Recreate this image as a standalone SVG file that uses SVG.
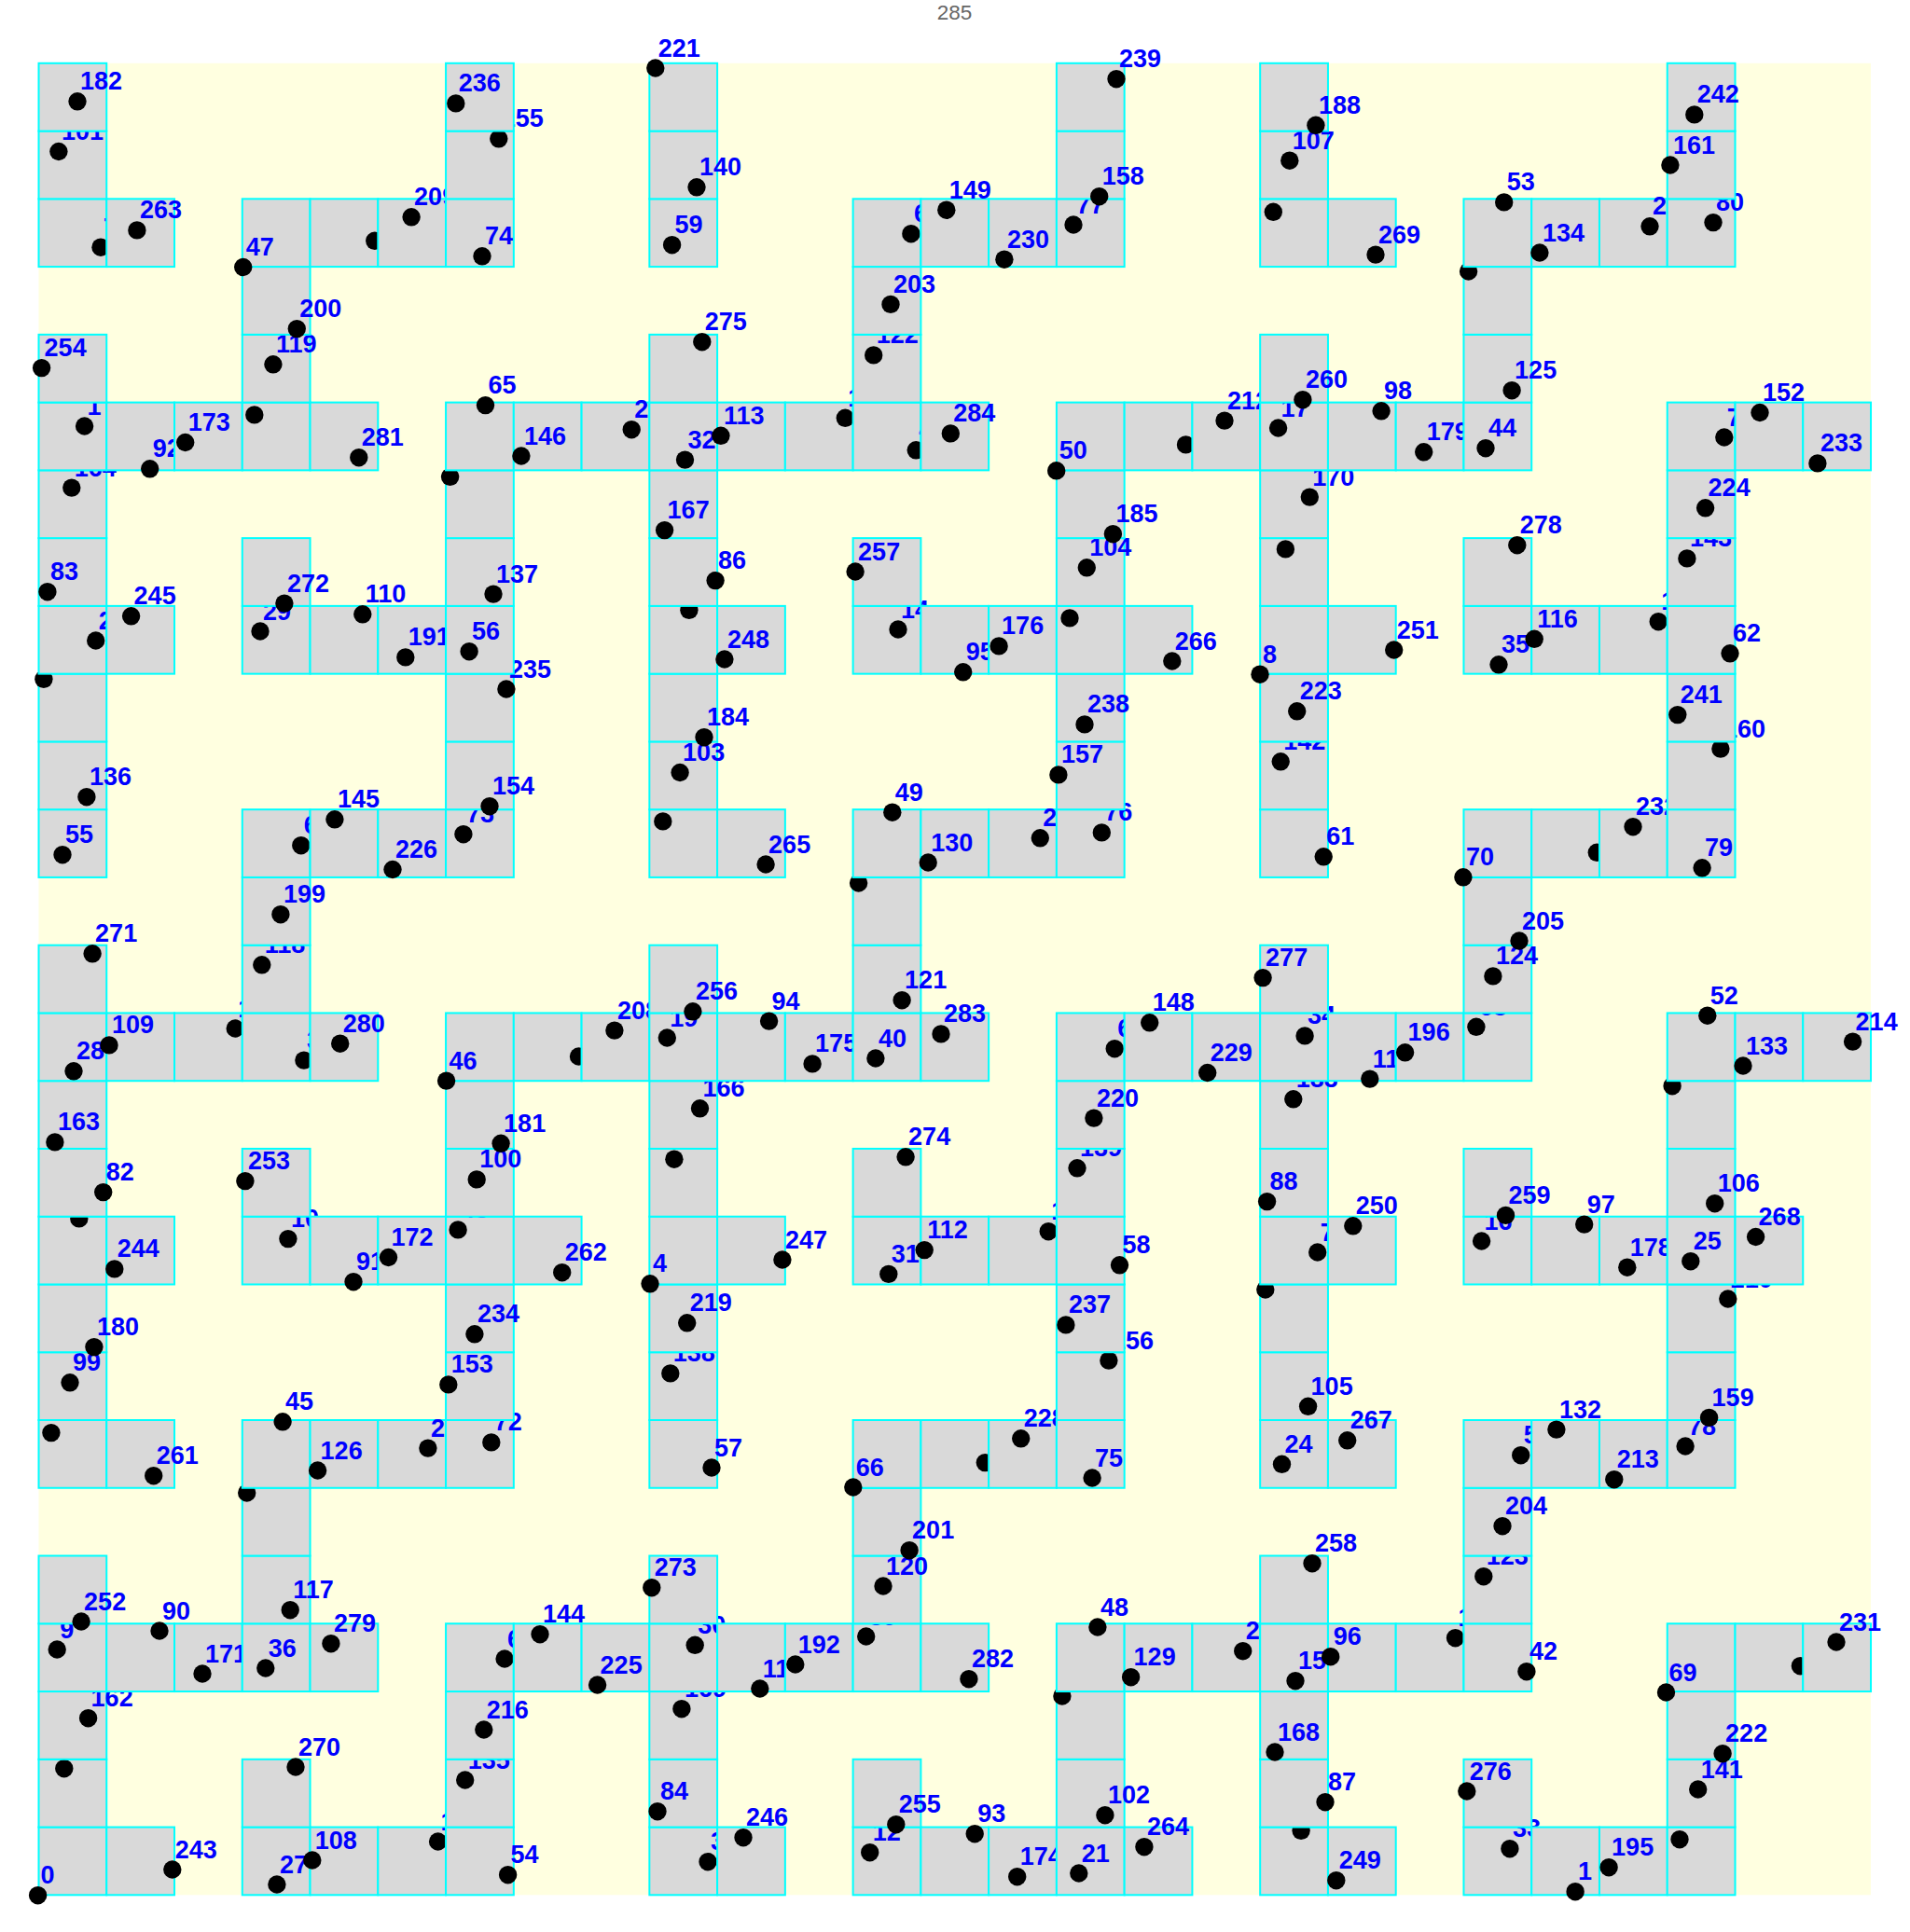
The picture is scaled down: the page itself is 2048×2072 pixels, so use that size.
<svg xmlns="http://www.w3.org/2000/svg" width="2048" height="2072" viewBox="0 0 2048 2072">
<style>
.c{fill:#d9d9d9;stroke:#00ffff;stroke-width:2}
circle{fill:#000}
.t{font-family:"Liberation Sans",Arial,sans-serif;font-weight:bold;font-size:27px;fill:#0000ff}
.ttl{font-family:"Liberation Sans",Arial,sans-serif;font-size:22.5px;fill:#666666}
</style>
<rect width="2048" height="2072" fill="#ffffff"/>
<text class="ttl" x="1023.5" y="21.3" text-anchor="middle">285</text>
<rect x="41.5" y="67.8" width="1964.5" height="1964.5" fill="#ffffe0"/>
<g id="cells">
<g id="n-26-0"><rect class="c" x="41.5" y="1959.56" width="72.76" height="72.76"/><circle cx="40.6" cy="2032.7" r="9.7"/><text class="t" x="43.6" y="2020.2">0</text></g>
<g id="n-26-1"><rect class="c" x="114.26" y="1959.56" width="72.76" height="72.76"/><circle cx="184.8" cy="2005" r="9.7"/><text class="t" x="187.8" y="1992.5">243</text></g>
<g id="n-26-3"><rect class="c" x="259.78" y="1959.56" width="72.76" height="72.76"/><circle cx="296.9" cy="2021" r="9.7"/><text class="t" x="299.9" y="2008.5">27</text></g>
<g id="n-26-4"><rect class="c" x="332.54" y="1959.56" width="72.76" height="72.76"/><circle cx="334.8" cy="1995" r="9.7"/><text class="t" x="337.8" y="1982.5">108</text></g>
<g id="n-26-5"><rect class="c" x="405.3" y="1959.56" width="72.76" height="72.76"/><circle cx="469.6" cy="1975" r="9.7"/><text class="t" x="472.6" y="1962.5">1</text></g>
<g id="n-26-6"><rect class="c" x="478.06" y="1959.56" width="72.76" height="72.76"/><circle cx="544.6" cy="2010.7" r="9.7"/><text class="t" x="547.6" y="1998.2">54</text></g>
<g id="n-26-9"><rect class="c" x="696.34" y="1959.56" width="72.76" height="72.76"/><circle cx="759" cy="1996.7" r="9.7"/><text class="t" x="762" y="1984.2">3</text></g>
<g id="n-26-10"><rect class="c" x="769.1" y="1959.56" width="72.76" height="72.76"/><circle cx="797" cy="1970.7" r="9.7"/><text class="t" x="800" y="1958.2">246</text></g>
<g id="n-26-12"><rect class="c" x="914.62" y="1959.56" width="72.76" height="72.76"/><circle cx="932.7" cy="1986.7" r="9.7"/><text class="t" x="935.7" y="1974.2">12</text></g>
<g id="n-26-13"><rect class="c" x="987.38" y="1959.56" width="72.76" height="72.76"/><circle cx="1045.2" cy="1966.7" r="9.7"/><text class="t" x="1048.2" y="1954.2">93</text></g>
<g id="n-26-14"><rect class="c" x="1060.14" y="1959.56" width="72.76" height="72.76"/><circle cx="1090.7" cy="2012.7" r="9.7"/><text class="t" x="1093.7" y="2000.2">174</text></g>
<g id="n-26-15"><rect class="c" x="1132.9" y="1959.56" width="72.76" height="72.76"/><circle cx="1156.8" cy="2009" r="9.7"/><text class="t" x="1159.8" y="1996.5">21</text></g>
<g id="n-26-16"><rect class="c" x="1205.66" y="1959.56" width="72.76" height="72.76"/><circle cx="1226.9" cy="1980.7" r="9.7"/><text class="t" x="1229.9" y="1968.2">264</text></g>
<g id="n-26-18"><rect class="c" x="1351.18" y="1959.56" width="72.76" height="72.76"/><circle cx="1395.1" cy="1963.3" r="9.7"/></g>
<g id="n-26-19"><rect class="c" x="1423.94" y="1959.56" width="72.76" height="72.76"/><circle cx="1432.8" cy="2016.7" r="9.7"/><text class="t" x="1435.8" y="2004.2">249</text></g>
<g id="n-26-21"><rect class="c" x="1569.46" y="1959.56" width="72.76" height="72.76"/><circle cx="1618.9" cy="1982.7" r="9.7"/><text class="t" x="1621.9" y="1970.2">33</text></g>
<g id="n-26-22"><rect class="c" x="1642.22" y="1959.56" width="72.76" height="72.76"/><circle cx="1689.1" cy="2028.7" r="9.7"/><text class="t" x="1692.1" y="2016.2">1</text></g>
<g id="n-26-23"><rect class="c" x="1714.98" y="1959.56" width="72.76" height="72.76"/><circle cx="1725.1" cy="2002.7" r="9.7"/><text class="t" x="1728.1" y="1990.2">195</text></g>
<g id="n-26-24"><rect class="c" x="1787.74" y="1959.56" width="72.76" height="72.76"/><circle cx="1801" cy="1972.7" r="9.7"/><text class="t" x="1804" y="1960.2">81</text></g>
<g id="n-25-0"><rect class="c" x="41.5" y="1886.8" width="72.76" height="72.76"/><circle cx="68.8" cy="1896.7" r="9.7"/></g>
<g id="n-25-3"><rect class="c" x="259.78" y="1886.8" width="72.76" height="72.76"/><circle cx="317" cy="1895" r="9.7"/><text class="t" x="320" y="1882.5">270</text></g>
<g id="n-25-6"><rect class="c" x="478.06" y="1886.8" width="72.76" height="72.76"/><circle cx="498.7" cy="1909" r="9.7"/><text class="t" x="501.7" y="1896.5">135</text></g>
<g id="n-25-9"><rect class="c" x="696.34" y="1886.8" width="72.76" height="72.76"/><circle cx="705" cy="1942.7" r="9.7"/><text class="t" x="708" y="1930.2">84</text></g>
<g id="n-25-12"><rect class="c" x="914.62" y="1886.8" width="72.76" height="72.76"/><circle cx="960.8" cy="1956.7" r="9.7"/><text class="t" x="963.8" y="1944.2">255</text></g>
<g id="n-25-15"><rect class="c" x="1132.9" y="1886.8" width="72.76" height="72.76"/><circle cx="1184.9" cy="1946.7" r="9.7"/><text class="t" x="1187.9" y="1934.2">102</text></g>
<g id="n-25-18"><rect class="c" x="1351.18" y="1886.8" width="72.76" height="72.76"/><circle cx="1421" cy="1932.7" r="9.7"/><text class="t" x="1424" y="1920.2">87</text></g>
<g id="n-25-21"><rect class="c" x="1569.46" y="1886.8" width="72.76" height="72.76"/><circle cx="1572.8" cy="1921" r="9.7"/><text class="t" x="1575.8" y="1908.5">276</text></g>
<g id="n-25-24"><rect class="c" x="1787.74" y="1886.8" width="72.76" height="72.76"/><circle cx="1820.7" cy="1919" r="9.7"/><text class="t" x="1823.7" y="1906.5">141</text></g>
<g id="n-24-0"><rect class="c" x="41.5" y="1814.04" width="72.76" height="72.76"/><circle cx="94.6" cy="1842.7" r="9.7"/><text class="t" x="97.6" y="1830.2">162</text></g>
<g id="n-24-6"><rect class="c" x="478.06" y="1814.04" width="72.76" height="72.76"/><circle cx="518.8" cy="1855" r="9.7"/><text class="t" x="521.8" y="1842.5">216</text></g>
<g id="n-24-9"><rect class="c" x="696.34" y="1814.04" width="72.76" height="72.76"/><circle cx="730.9" cy="1832.7" r="9.7"/><text class="t" x="733.9" y="1820.2">169</text></g>
<g id="n-24-15"><rect class="c" x="1132.9" y="1814.04" width="72.76" height="72.76"/><circle cx="1138.9" cy="1819" r="9.7"/></g>
<g id="n-24-18"><rect class="c" x="1351.18" y="1814.04" width="72.76" height="72.76"/><circle cx="1367" cy="1879" r="9.7"/><text class="t" x="1370" y="1866.5">168</text></g>
<g id="n-24-24"><rect class="c" x="1787.74" y="1814.04" width="72.76" height="72.76"/><circle cx="1847.1" cy="1880.7" r="9.7"/><text class="t" x="1850.1" y="1868.2">222</text></g>
<g id="n-23-0"><rect class="c" x="41.5" y="1741.28" width="72.76" height="72.76"/><circle cx="61.2" cy="1769" r="9.7"/><text class="t" x="64.2" y="1756.5">9</text></g>
<g id="n-23-1"><rect class="c" x="114.26" y="1741.28" width="72.76" height="72.76"/><circle cx="171" cy="1749" r="9.7"/><text class="t" x="174" y="1736.5">90</text></g>
<g id="n-23-2"><rect class="c" x="187.02" y="1741.28" width="72.76" height="72.76"/><circle cx="217" cy="1795" r="9.7"/><text class="t" x="220" y="1782.5">171</text></g>
<g id="n-23-3"><rect class="c" x="259.78" y="1741.28" width="72.76" height="72.76"/><circle cx="284.8" cy="1789" r="9.7"/><text class="t" x="287.8" y="1776.5">36</text></g>
<g id="n-23-4"><rect class="c" x="332.54" y="1741.28" width="72.76" height="72.76"/><circle cx="354.9" cy="1762.7" r="9.7"/><text class="t" x="357.9" y="1750.2">279</text></g>
<g id="n-23-6"><rect class="c" x="478.06" y="1741.28" width="72.76" height="72.76"/><circle cx="541.1" cy="1779" r="9.7"/><text class="t" x="544.1" y="1766.5">6</text></g>
<g id="n-23-7"><rect class="c" x="550.82" y="1741.28" width="72.76" height="72.76"/><circle cx="579" cy="1752.7" r="9.7"/><text class="t" x="582" y="1740.2">144</text></g>
<g id="n-23-8"><rect class="c" x="623.58" y="1741.28" width="72.76" height="72.76"/><circle cx="640.6" cy="1807" r="9.7"/><text class="t" x="643.6" y="1794.5">225</text></g>
<g id="n-23-9"><rect class="c" x="696.34" y="1741.28" width="72.76" height="72.76"/><circle cx="745.2" cy="1764.3" r="9.7"/><text class="t" x="748.2" y="1751.8">30</text></g>
<g id="n-23-10"><rect class="c" x="769.1" y="1741.28" width="72.76" height="72.76"/><circle cx="814.8" cy="1811" r="9.7"/><text class="t" x="817.8" y="1798.5">11</text></g>
<g id="n-23-11"><rect class="c" x="841.86" y="1741.28" width="72.76" height="72.76"/><circle cx="852.8" cy="1785" r="9.7"/><text class="t" x="855.8" y="1772.5">192</text></g>
<g id="n-23-12"><rect class="c" x="914.62" y="1741.28" width="72.76" height="72.76"/><circle cx="928.7" cy="1755" r="9.7"/><text class="t" x="931.7" y="1742.5">89</text></g>
<g id="n-23-13"><rect class="c" x="987.38" y="1741.28" width="72.76" height="72.76"/><circle cx="1038.9" cy="1800.7" r="9.7"/><text class="t" x="1041.9" y="1788.2">282</text></g>
<g id="n-23-15"><rect class="c" x="1132.9" y="1741.28" width="72.76" height="72.76"/><circle cx="1176.9" cy="1745" r="9.7"/><text class="t" x="1179.9" y="1732.5">48</text></g>
<g id="n-23-16"><rect class="c" x="1205.66" y="1741.28" width="72.76" height="72.76"/><circle cx="1212.6" cy="1798.7" r="9.7"/><text class="t" x="1215.6" y="1786.2">129</text></g>
<g id="n-23-17"><rect class="c" x="1278.42" y="1741.28" width="72.76" height="72.76"/><circle cx="1332.7" cy="1770.7" r="9.7"/><text class="t" x="1335.7" y="1758.2">2</text></g>
<g id="n-23-18"><rect class="c" x="1351.18" y="1741.28" width="72.76" height="72.76"/><circle cx="1389" cy="1802.7" r="9.7"/><text class="t" x="1392" y="1790.2">15</text></g>
<g id="n-23-19"><rect class="c" x="1423.94" y="1741.28" width="72.76" height="72.76"/><circle cx="1426.7" cy="1776.7" r="9.7"/><text class="t" x="1429.7" y="1764.2">96</text></g>
<g id="n-23-20"><rect class="c" x="1496.7" y="1741.28" width="72.76" height="72.76"/><circle cx="1560.5" cy="1756.7" r="9.7"/><text class="t" x="1563.5" y="1744.2">1</text></g>
<g id="n-23-21"><rect class="c" x="1569.46" y="1741.28" width="72.76" height="72.76"/><circle cx="1636.9" cy="1792.7" r="9.7"/><text class="t" x="1639.9" y="1780.2">42</text></g>
<g id="n-23-24"><rect class="c" x="1787.74" y="1741.28" width="72.76" height="72.76"/><circle cx="1786.5" cy="1815" r="9.7"/><text class="t" x="1789.5" y="1802.5">69</text></g>
<g id="n-23-25"><rect class="c" x="1860.5" y="1741.28" width="72.76" height="72.76"/><circle cx="1930.4" cy="1786.7" r="9.7"/></g>
<g id="n-23-26"><rect class="c" x="1933.26" y="1741.28" width="72.76" height="72.76"/><circle cx="1969" cy="1761" r="9.7"/><text class="t" x="1972" y="1748.5">231</text></g>
<g id="n-22-0"><rect class="c" x="41.5" y="1668.52" width="72.76" height="72.76"/><circle cx="87.1" cy="1739" r="9.7"/><text class="t" x="90.1" y="1726.5">252</text></g>
<g id="n-22-3"><rect class="c" x="259.78" y="1668.52" width="72.76" height="72.76"/><circle cx="311.2" cy="1726.7" r="9.7"/><text class="t" x="314.2" y="1714.2">117</text></g>
<g id="n-22-9"><rect class="c" x="696.34" y="1668.52" width="72.76" height="72.76"/><circle cx="698.8" cy="1702.7" r="9.7"/><text class="t" x="701.8" y="1690.2">273</text></g>
<g id="n-22-12"><rect class="c" x="914.62" y="1668.52" width="72.76" height="72.76"/><circle cx="947" cy="1701" r="9.7"/><text class="t" x="950" y="1688.5">120</text></g>
<g id="n-22-18"><rect class="c" x="1351.18" y="1668.52" width="72.76" height="72.76"/><circle cx="1407" cy="1676.7" r="9.7"/><text class="t" x="1410" y="1664.2">258</text></g>
<g id="n-22-21"><rect class="c" x="1569.46" y="1668.52" width="72.76" height="72.76"/><circle cx="1590.8" cy="1690.7" r="9.7"/><text class="t" x="1593.8" y="1678.2">123</text></g>
<g id="n-21-3"><rect class="c" x="259.78" y="1595.76" width="72.76" height="72.76"/><circle cx="264.7" cy="1601" r="9.7"/></g>
<g id="n-21-12"><rect class="c" x="914.62" y="1595.76" width="72.76" height="72.76"/><circle cx="975.1" cy="1662.7" r="9.7"/><text class="t" x="978.1" y="1650.2">201</text></g>
<g id="n-21-21"><rect class="c" x="1569.46" y="1595.76" width="72.76" height="72.76"/><circle cx="1611" cy="1636.7" r="9.7"/><text class="t" x="1614" y="1624.2">204</text></g>
<g id="n-20-0"><rect class="c" x="41.5" y="1523" width="72.76" height="72.76"/><circle cx="54.9" cy="1536.6" r="9.7"/><text class="t" x="57.9" y="1524.1">85</text></g>
<g id="n-20-1"><rect class="c" x="114.26" y="1523" width="72.76" height="72.76"/><circle cx="164.7" cy="1582.7" r="9.7"/><text class="t" x="167.7" y="1570.2">261</text></g>
<g id="n-20-3"><rect class="c" x="259.78" y="1523" width="72.76" height="72.76"/><circle cx="303.1" cy="1524.8" r="9.7"/><text class="t" x="306.1" y="1512.3">45</text></g>
<g id="n-20-4"><rect class="c" x="332.54" y="1523" width="72.76" height="72.76"/><circle cx="340.6" cy="1577" r="9.7"/><text class="t" x="343.6" y="1564.5">126</text></g>
<g id="n-20-5"><rect class="c" x="405.3" y="1523" width="72.76" height="72.76"/><circle cx="458.9" cy="1553.1" r="9.7"/><text class="t" x="461.9" y="1540.6">2</text></g>
<g id="n-20-6"><rect class="c" x="478.06" y="1523" width="72.76" height="72.76"/><circle cx="526.8" cy="1546.9" r="9.7"/><text class="t" x="529.8" y="1534.4">72</text></g>
<g id="n-20-9"><rect class="c" x="696.34" y="1523" width="72.76" height="72.76"/><circle cx="763" cy="1574" r="9.7"/><text class="t" x="766" y="1561.5">57</text></g>
<g id="n-20-12"><rect class="c" x="914.62" y="1523" width="72.76" height="72.76"/><circle cx="914.8" cy="1595" r="9.7"/><text class="t" x="917.8" y="1582.5">66</text></g>
<g id="n-20-13"><rect class="c" x="987.38" y="1523" width="72.76" height="72.76"/><circle cx="1056.3" cy="1568.6" r="9.7"/></g>
<g id="n-20-14"><rect class="c" x="1060.14" y="1523" width="72.76" height="72.76"/><circle cx="1094.7" cy="1542.8" r="9.7"/><text class="t" x="1097.7" y="1530.3">228</text></g>
<g id="n-20-15"><rect class="c" x="1132.9" y="1523" width="72.76" height="72.76"/><circle cx="1171.1" cy="1585" r="9.7"/><text class="t" x="1174.1" y="1572.5">75</text></g>
<g id="n-20-18"><rect class="c" x="1351.18" y="1523" width="72.76" height="72.76"/><circle cx="1374.5" cy="1570.3" r="9.7"/><text class="t" x="1377.5" y="1557.8">24</text></g>
<g id="n-20-19"><rect class="c" x="1423.94" y="1523" width="72.76" height="72.76"/><circle cx="1444.7" cy="1544.8" r="9.7"/><text class="t" x="1447.7" y="1532.3">267</text></g>
<g id="n-20-21"><rect class="c" x="1569.46" y="1523" width="72.76" height="72.76"/><circle cx="1630.7" cy="1560.7" r="9.7"/><text class="t" x="1633.7" y="1548.2">5</text></g>
<g id="n-20-22"><rect class="c" x="1642.22" y="1523" width="72.76" height="72.76"/><circle cx="1668.9" cy="1533.1" r="9.7"/><text class="t" x="1671.9" y="1520.6">132</text></g>
<g id="n-20-23"><rect class="c" x="1714.98" y="1523" width="72.76" height="72.76"/><circle cx="1730.8" cy="1586.7" r="9.7"/><text class="t" x="1733.8" y="1574.2">213</text></g>
<g id="n-20-24"><rect class="c" x="1787.74" y="1523" width="72.76" height="72.76"/><circle cx="1807.1" cy="1551" r="9.7"/><text class="t" x="1810.1" y="1538.5">78</text></g>
<g id="n-19-0"><rect class="c" x="41.5" y="1450.24" width="72.76" height="72.76"/><circle cx="75" cy="1482.8" r="9.7"/><text class="t" x="78" y="1470.3">99</text></g>
<g id="n-19-6"><rect class="c" x="478.06" y="1450.24" width="72.76" height="72.76"/><circle cx="480.8" cy="1484.9" r="9.7"/><text class="t" x="483.8" y="1472.4">153</text></g>
<g id="n-19-9"><rect class="c" x="696.34" y="1450.24" width="72.76" height="72.76"/><circle cx="718.8" cy="1472.9" r="9.7"/><text class="t" x="721.8" y="1460.4">138</text></g>
<g id="n-19-15"><rect class="c" x="1132.9" y="1450.24" width="72.76" height="72.76"/><circle cx="1188.9" cy="1459.1" r="9.7"/><text class="t" x="1191.9" y="1446.6">156</text></g>
<g id="n-19-18"><rect class="c" x="1351.18" y="1450.24" width="72.76" height="72.76"/><circle cx="1402.6" cy="1508.3" r="9.7"/><text class="t" x="1405.6" y="1495.8">105</text></g>
<g id="n-19-24"><rect class="c" x="1787.74" y="1450.24" width="72.76" height="72.76"/><circle cx="1832.6" cy="1520.4" r="9.7"/><text class="t" x="1835.6" y="1507.9">159</text></g>
<g id="n-18-0"><rect class="c" x="41.5" y="1377.48" width="72.76" height="72.76"/><circle cx="100.9" cy="1444.6" r="9.7"/><text class="t" x="103.9" y="1432.1">180</text></g>
<g id="n-18-6"><rect class="c" x="478.06" y="1377.48" width="72.76" height="72.76"/><circle cx="508.9" cy="1430.8" r="9.7"/><text class="t" x="511.9" y="1418.3">234</text></g>
<g id="n-18-9"><rect class="c" x="696.34" y="1377.48" width="72.76" height="72.76"/><circle cx="736.7" cy="1418.8" r="9.7"/><text class="t" x="739.7" y="1406.3">219</text></g>
<g id="n-18-15"><rect class="c" x="1132.9" y="1377.48" width="72.76" height="72.76"/><circle cx="1142.9" cy="1420.9" r="9.7"/><text class="t" x="1145.9" y="1408.4">237</text></g>
<g id="n-18-18"><rect class="c" x="1351.18" y="1377.48" width="72.76" height="72.76"/><circle cx="1356.8" cy="1383" r="9.7"/></g>
<g id="n-18-24"><rect class="c" x="1787.74" y="1377.48" width="72.76" height="72.76"/><circle cx="1852.8" cy="1393" r="9.7"/><text class="t" x="1855.8" y="1380.5">210</text></g>
<g id="n-17-0"><rect class="c" x="41.5" y="1304.72" width="72.76" height="72.76"/><circle cx="84.8" cy="1306.9" r="9.7"/></g>
<g id="n-17-1"><rect class="c" x="114.26" y="1304.72" width="72.76" height="72.76"/><circle cx="122.8" cy="1360.9" r="9.7"/><text class="t" x="125.8" y="1348.4">244</text></g>
<g id="n-17-3"><rect class="c" x="259.78" y="1304.72" width="72.76" height="72.76"/><circle cx="308.9" cy="1328.6" r="9.7"/><text class="t" x="311.9" y="1316.1">10</text></g>
<g id="n-17-4"><rect class="c" x="332.54" y="1304.72" width="72.76" height="72.76"/><circle cx="379" cy="1374.7" r="9.7"/><text class="t" x="382" y="1362.2">91</text></g>
<g id="n-17-5"><rect class="c" x="405.3" y="1304.72" width="72.76" height="72.76"/><circle cx="416.5" cy="1348.5" r="9.7"/><text class="t" x="419.5" y="1336">172</text></g>
<g id="n-17-6"><rect class="c" x="478.06" y="1304.72" width="72.76" height="72.76"/><circle cx="491.1" cy="1318.9" r="9.7"/><text class="t" x="494.1" y="1306.4">43</text></g>
<g id="n-17-7"><rect class="c" x="550.82" y="1304.72" width="72.76" height="72.76"/><circle cx="602.7" cy="1364.7" r="9.7"/><text class="t" x="605.7" y="1352.2">262</text></g>
<g id="n-17-9"><rect class="c" x="696.34" y="1304.72" width="72.76" height="72.76"/><circle cx="697" cy="1376.8" r="9.7"/><text class="t" x="700" y="1364.3">4</text></g>
<g id="n-17-10"><rect class="c" x="769.1" y="1304.72" width="72.76" height="72.76"/><circle cx="838.9" cy="1351" r="9.7"/><text class="t" x="841.9" y="1338.5">247</text></g>
<g id="n-17-12"><rect class="c" x="914.62" y="1304.72" width="72.76" height="72.76"/><circle cx="952.8" cy="1366.4" r="9.7"/><text class="t" x="955.8" y="1353.9">31</text></g>
<g id="n-17-13"><rect class="c" x="987.38" y="1304.72" width="72.76" height="72.76"/><circle cx="991.2" cy="1340.6" r="9.7"/><text class="t" x="994.2" y="1328.1">112</text></g>
<g id="n-17-14"><rect class="c" x="1060.14" y="1304.72" width="72.76" height="72.76"/><circle cx="1124.2" cy="1320.7" r="9.7"/><text class="t" x="1127.2" y="1308.2">1</text></g>
<g id="n-17-15"><rect class="c" x="1132.9" y="1304.72" width="72.76" height="72.76"/><circle cx="1200.5" cy="1356.8" r="9.7"/><text class="t" x="1203.5" y="1344.3">58</text></g>
<g id="n-17-18"><rect class="c" x="1351.18" y="1304.72" width="72.76" height="72.76"/><circle cx="1412.7" cy="1343" r="9.7"/><text class="t" x="1415.7" y="1330.5">7</text></g>
<g id="n-17-19"><rect class="c" x="1423.94" y="1304.72" width="72.76" height="72.76"/><circle cx="1450.8" cy="1314.8" r="9.7"/><text class="t" x="1453.8" y="1302.3">250</text></g>
<g id="n-17-21"><rect class="c" x="1569.46" y="1304.72" width="72.76" height="72.76"/><circle cx="1588.6" cy="1331" r="9.7"/><text class="t" x="1591.6" y="1318.5">16</text></g>
<g id="n-17-22"><rect class="c" x="1642.22" y="1304.72" width="72.76" height="72.76"/><circle cx="1698.7" cy="1313.1" r="9.7"/><text class="t" x="1701.7" y="1300.6">97</text></g>
<g id="n-17-23"><rect class="c" x="1714.98" y="1304.72" width="72.76" height="72.76"/><circle cx="1744.8" cy="1359.2" r="9.7"/><text class="t" x="1747.8" y="1346.7">178</text></g>
<g id="n-17-24"><rect class="c" x="1787.74" y="1304.72" width="72.76" height="72.76"/><circle cx="1812.8" cy="1352.7" r="9.7"/><text class="t" x="1815.8" y="1340.2">25</text></g>
<g id="n-17-25"><rect class="c" x="1860.5" y="1304.72" width="72.76" height="72.76"/><circle cx="1882.6" cy="1326.5" r="9.7"/><text class="t" x="1885.6" y="1314">268</text></g>
<g id="n-16-0"><rect class="c" x="41.5" y="1231.96" width="72.76" height="72.76"/><circle cx="110.7" cy="1278.6" r="9.7"/><text class="t" x="113.7" y="1266.1">82</text></g>
<g id="n-16-3"><rect class="c" x="259.78" y="1231.96" width="72.76" height="72.76"/><circle cx="262.9" cy="1266.6" r="9.7"/><text class="t" x="265.9" y="1254.1">253</text></g>
<g id="n-16-6"><rect class="c" x="478.06" y="1231.96" width="72.76" height="72.76"/><circle cx="511.2" cy="1264.9" r="9.7"/><text class="t" x="514.2" y="1252.4">100</text></g>
<g id="n-16-9"><rect class="c" x="696.34" y="1231.96" width="72.76" height="72.76"/><circle cx="722.9" cy="1243.2" r="9.7"/></g>
<g id="n-16-12"><rect class="c" x="914.62" y="1231.96" width="72.76" height="72.76"/><circle cx="971.1" cy="1240.8" r="9.7"/><text class="t" x="974.1" y="1228.3">274</text></g>
<g id="n-16-15"><rect class="c" x="1132.9" y="1231.96" width="72.76" height="72.76"/><circle cx="1155" cy="1252.8" r="9.7"/><text class="t" x="1158" y="1240.3">139</text></g>
<g id="n-16-18"><rect class="c" x="1351.18" y="1231.96" width="72.76" height="72.76"/><circle cx="1358.6" cy="1288.6" r="9.7"/><text class="t" x="1361.6" y="1276.1">88</text></g>
<g id="n-16-21"><rect class="c" x="1569.46" y="1231.96" width="72.76" height="72.76"/><circle cx="1614.5" cy="1303.4" r="9.7"/><text class="t" x="1617.5" y="1290.9">259</text></g>
<g id="n-16-24"><rect class="c" x="1787.74" y="1231.96" width="72.76" height="72.76"/><circle cx="1838.7" cy="1290.7" r="9.7"/><text class="t" x="1841.7" y="1278.2">106</text></g>
<g id="n-15-0"><rect class="c" x="41.5" y="1159.2" width="72.76" height="72.76"/><circle cx="58.9" cy="1224.9" r="9.7"/><text class="t" x="61.9" y="1212.4">163</text></g>
<g id="n-15-6"><rect class="c" x="478.06" y="1159.2" width="72.76" height="72.76"/><circle cx="537.1" cy="1226.3" r="9.7"/><text class="t" x="540.1" y="1213.8">181</text></g>
<g id="n-15-9"><rect class="c" x="696.34" y="1159.2" width="72.76" height="72.76"/><circle cx="750.5" cy="1188.8" r="9.7"/><text class="t" x="753.5" y="1176.3">166</text></g>
<g id="n-15-15"><rect class="c" x="1132.9" y="1159.2" width="72.76" height="72.76"/><circle cx="1172.9" cy="1199.1" r="9.7"/><text class="t" x="1175.9" y="1186.6">220</text></g>
<g id="n-15-18"><rect class="c" x="1351.18" y="1159.2" width="72.76" height="72.76"/><circle cx="1386.8" cy="1178.8" r="9.7"/><text class="t" x="1389.8" y="1166.3">183</text></g>
<g id="n-15-24"><rect class="c" x="1787.74" y="1159.2" width="72.76" height="72.76"/><circle cx="1793.1" cy="1164.7" r="9.7"/></g>
<g id="n-14-0"><rect class="c" x="41.5" y="1086.44" width="72.76" height="72.76"/><circle cx="79" cy="1148.8" r="9.7"/><text class="t" x="82" y="1136.3">28</text></g>
<g id="n-14-1"><rect class="c" x="114.26" y="1086.44" width="72.76" height="72.76"/><circle cx="117" cy="1120.9" r="9.7"/><text class="t" x="120" y="1108.4">109</text></g>
<g id="n-14-2"><rect class="c" x="187.02" y="1086.44" width="72.76" height="72.76"/><circle cx="252.2" cy="1103" r="9.7"/><text class="t" x="255.2" y="1090.5">1</text></g>
<g id="n-14-3"><rect class="c" x="259.78" y="1086.44" width="72.76" height="72.76"/><circle cx="325.9" cy="1137.1" r="9.7"/><text class="t" x="328.9" y="1124.6">3</text></g>
<g id="n-14-4"><rect class="c" x="332.54" y="1086.44" width="72.76" height="72.76"/><circle cx="364.7" cy="1119.2" r="9.7"/><text class="t" x="367.7" y="1106.7">280</text></g>
<g id="n-14-6"><rect class="c" x="478.06" y="1086.44" width="72.76" height="72.76"/><circle cx="478.6" cy="1159.1" r="9.7"/><text class="t" x="481.6" y="1146.6">46</text></g>
<g id="n-14-7"><rect class="c" x="550.82" y="1086.44" width="72.76" height="72.76"/><circle cx="620.5" cy="1133" r="9.7"/></g>
<g id="n-14-8"><rect class="c" x="623.58" y="1086.44" width="72.76" height="72.76"/><circle cx="658.9" cy="1105.1" r="9.7"/><text class="t" x="661.9" y="1092.6">208</text></g>
<g id="n-14-9"><rect class="c" x="696.34" y="1086.44" width="72.76" height="72.76"/><circle cx="715.3" cy="1113" r="9.7"/><text class="t" x="718.3" y="1100.5">19</text></g>
<g id="n-14-10"><rect class="c" x="769.1" y="1086.44" width="72.76" height="72.76"/><circle cx="824.6" cy="1095.1" r="9.7"/><text class="t" x="827.6" y="1082.6">94</text></g>
<g id="n-14-11"><rect class="c" x="841.86" y="1086.44" width="72.76" height="72.76"/><circle cx="871.1" cy="1140.9" r="9.7"/><text class="t" x="874.1" y="1128.4">175</text></g>
<g id="n-14-12"><rect class="c" x="914.62" y="1086.44" width="72.76" height="72.76"/><circle cx="938.9" cy="1135" r="9.7"/><text class="t" x="941.9" y="1122.5">40</text></g>
<g id="n-14-13"><rect class="c" x="987.38" y="1086.44" width="72.76" height="72.76"/><circle cx="1009" cy="1108.9" r="9.7"/><text class="t" x="1012" y="1096.4">283</text></g>
<g id="n-14-15"><rect class="c" x="1132.9" y="1086.44" width="72.76" height="72.76"/><circle cx="1195.2" cy="1124.7" r="9.7"/><text class="t" x="1198.2" y="1112.2">6</text></g>
<g id="n-14-16"><rect class="c" x="1205.66" y="1086.44" width="72.76" height="72.76"/><circle cx="1232.7" cy="1096.8" r="9.7"/><text class="t" x="1235.7" y="1084.3">148</text></g>
<g id="n-14-17"><rect class="c" x="1278.42" y="1086.44" width="72.76" height="72.76"/><circle cx="1294.7" cy="1150.5" r="9.7"/><text class="t" x="1297.7" y="1138">229</text></g>
<g id="n-14-18"><rect class="c" x="1351.18" y="1086.44" width="72.76" height="72.76"/><circle cx="1399.1" cy="1110.9" r="9.7"/><text class="t" x="1402.1" y="1098.4">34</text></g>
<g id="n-14-19"><rect class="c" x="1423.94" y="1086.44" width="72.76" height="72.76"/><circle cx="1468.8" cy="1157.1" r="9.7"/><text class="t" x="1471.8" y="1144.6">11</text></g>
<g id="n-14-20"><rect class="c" x="1496.7" y="1086.44" width="72.76" height="72.76"/><circle cx="1506.6" cy="1128.8" r="9.7"/><text class="t" x="1509.6" y="1116.3">196</text></g>
<g id="n-14-21"><rect class="c" x="1569.46" y="1086.44" width="72.76" height="72.76"/><circle cx="1582.9" cy="1101.3" r="9.7"/><text class="t" x="1585.9" y="1088.8">68</text></g>
<g id="n-14-24"><rect class="c" x="1787.74" y="1086.44" width="72.76" height="72.76"/><circle cx="1830.8" cy="1089.2" r="9.7"/><text class="t" x="1833.8" y="1076.7">52</text></g>
<g id="n-14-25"><rect class="c" x="1860.5" y="1086.44" width="72.76" height="72.76"/><circle cx="1869" cy="1143" r="9.7"/><text class="t" x="1872" y="1130.5">133</text></g>
<g id="n-14-26"><rect class="c" x="1933.26" y="1086.44" width="72.76" height="72.76"/><circle cx="1986.6" cy="1117.1" r="9.7"/><text class="t" x="1989.6" y="1104.6">214</text></g>
<g id="n-13-0"><rect class="c" x="41.5" y="1013.68" width="72.76" height="72.76"/><circle cx="99.1" cy="1022.8" r="9.7"/><text class="t" x="102.1" y="1010.3">271</text></g>
<g id="n-13-3"><rect class="c" x="259.78" y="1013.68" width="72.76" height="72.76"/><circle cx="280.8" cy="1034.8" r="9.7"/><text class="t" x="283.8" y="1022.3">118</text></g>
<g id="n-13-9"><rect class="c" x="696.34" y="1013.68" width="72.76" height="72.76"/><circle cx="742.9" cy="1084.8" r="9.7"/><text class="t" x="745.9" y="1072.3">256</text></g>
<g id="n-13-12"><rect class="c" x="914.62" y="1013.68" width="72.76" height="72.76"/><circle cx="967.1" cy="1072.7" r="9.7"/><text class="t" x="970.1" y="1060.2">121</text></g>
<g id="n-13-18"><rect class="c" x="1351.18" y="1013.68" width="72.76" height="72.76"/><circle cx="1354.1" cy="1048.6" r="9.7"/><text class="t" x="1357.1" y="1036.1">277</text></g>
<g id="n-13-21"><rect class="c" x="1569.46" y="1013.68" width="72.76" height="72.76"/><circle cx="1600.9" cy="1046.9" r="9.7"/><text class="t" x="1603.9" y="1034.4">124</text></g>
<g id="n-12-3"><rect class="c" x="259.78" y="940.92" width="72.76" height="72.76"/><circle cx="300.9" cy="980.7" r="9.7"/><text class="t" x="303.9" y="968.2">199</text></g>
<g id="n-12-12"><rect class="c" x="914.62" y="940.92" width="72.76" height="72.76"/><circle cx="920.6" cy="947" r="9.7"/></g>
<g id="n-12-21"><rect class="c" x="1569.46" y="940.92" width="72.76" height="72.76"/><circle cx="1629" cy="1009" r="9.7"/><text class="t" x="1632" y="996.5">205</text></g>
<g id="n-11-0"><rect class="c" x="41.5" y="868.16" width="72.76" height="72.76"/><circle cx="67" cy="916.7" r="9.7"/><text class="t" x="70" y="904.2">55</text></g>
<g id="n-11-3"><rect class="c" x="259.78" y="868.16" width="72.76" height="72.76"/><circle cx="322.8" cy="906.7" r="9.7"/><text class="t" x="325.8" y="894.2">6</text></g>
<g id="n-11-4"><rect class="c" x="332.54" y="868.16" width="72.76" height="72.76"/><circle cx="358.9" cy="878.8" r="9.7"/><text class="t" x="361.9" y="866.3">145</text></g>
<g id="n-11-5"><rect class="c" x="405.3" y="868.16" width="72.76" height="72.76"/><circle cx="421" cy="932.5" r="9.7"/><text class="t" x="424" y="920">226</text></g>
<g id="n-11-6"><rect class="c" x="478.06" y="868.16" width="72.76" height="72.76"/><circle cx="496.9" cy="894.7" r="9.7"/><text class="t" x="499.9" y="882.2">73</text></g>
<g id="n-11-9"><rect class="c" x="696.34" y="868.16" width="72.76" height="72.76"/><circle cx="710.8" cy="880.9" r="9.7"/><text class="t" x="713.8" y="868.4">63</text></g>
<g id="n-11-10"><rect class="c" x="769.1" y="868.16" width="72.76" height="72.76"/><circle cx="821.1" cy="927" r="9.7"/><text class="t" x="824.1" y="914.5">265</text></g>
<g id="n-11-12"><rect class="c" x="914.62" y="868.16" width="72.76" height="72.76"/><circle cx="956.8" cy="871.2" r="9.7"/><text class="t" x="959.8" y="858.7">49</text></g>
<g id="n-11-13"><rect class="c" x="987.38" y="868.16" width="72.76" height="72.76"/><circle cx="995.2" cy="925" r="9.7"/><text class="t" x="998.2" y="912.5">130</text></g>
<g id="n-11-14"><rect class="c" x="1060.14" y="868.16" width="72.76" height="72.76"/><circle cx="1115.3" cy="898.8" r="9.7"/><text class="t" x="1118.3" y="886.3">2</text></g>
<g id="n-11-15"><rect class="c" x="1132.9" y="868.16" width="72.76" height="72.76"/><circle cx="1181.3" cy="892.9" r="9.7"/><text class="t" x="1184.3" y="880.4">76</text></g>
<g id="n-11-18"><rect class="c" x="1351.18" y="868.16" width="72.76" height="72.76"/><circle cx="1419.2" cy="918.8" r="9.7"/><text class="t" x="1422.2" y="906.3">61</text></g>
<g id="n-11-21"><rect class="c" x="1569.46" y="868.16" width="72.76" height="72.76"/><circle cx="1568.9" cy="940.8" r="9.7"/><text class="t" x="1571.9" y="928.3">70</text></g>
<g id="n-11-22"><rect class="c" x="1642.22" y="868.16" width="72.76" height="72.76"/><circle cx="1712.3" cy="914.3" r="9.7"/></g>
<g id="n-11-23"><rect class="c" x="1714.98" y="868.16" width="72.76" height="72.76"/><circle cx="1751" cy="886.7" r="9.7"/><text class="t" x="1754" y="874.2">232</text></g>
<g id="n-11-24"><rect class="c" x="1787.74" y="868.16" width="72.76" height="72.76"/><circle cx="1825.1" cy="930.8" r="9.7"/><text class="t" x="1828.1" y="918.3">79</text></g>
<g id="n-10-0"><rect class="c" x="41.5" y="795.4" width="72.76" height="72.76"/><circle cx="92.9" cy="854.7" r="9.7"/><text class="t" x="95.9" y="842.2">136</text></g>
<g id="n-10-6"><rect class="c" x="478.06" y="795.4" width="72.76" height="72.76"/><circle cx="525" cy="864.7" r="9.7"/><text class="t" x="528" y="852.2">154</text></g>
<g id="n-10-9"><rect class="c" x="696.34" y="795.4" width="72.76" height="72.76"/><circle cx="729.1" cy="828.5" r="9.7"/><text class="t" x="732.1" y="816">103</text></g>
<g id="n-10-15"><rect class="c" x="1132.9" y="795.4" width="72.76" height="72.76"/><circle cx="1134.9" cy="830.9" r="9.7"/><text class="t" x="1137.9" y="818.4">157</text></g>
<g id="n-10-18"><rect class="c" x="1351.18" y="795.4" width="72.76" height="72.76"/><circle cx="1373.2" cy="816.8" r="9.7"/><text class="t" x="1376.2" y="804.3">142</text></g>
<g id="n-10-24"><rect class="c" x="1787.74" y="795.4" width="72.76" height="72.76"/><circle cx="1844.9" cy="803.1" r="9.7"/><text class="t" x="1847.9" y="790.6">160</text></g>
<g id="n-9-0"><rect class="c" x="41.5" y="722.64" width="72.76" height="72.76"/><circle cx="46.9" cy="728.3" r="9.7"/></g>
<g id="n-9-6"><rect class="c" x="478.06" y="722.64" width="72.76" height="72.76"/><circle cx="542.9" cy="739" r="9.7"/><text class="t" x="545.9" y="726.5">235</text></g>
<g id="n-9-9"><rect class="c" x="696.34" y="722.64" width="72.76" height="72.76"/><circle cx="755" cy="790.7" r="9.7"/><text class="t" x="758" y="778.2">184</text></g>
<g id="n-9-15"><rect class="c" x="1132.9" y="722.64" width="72.76" height="72.76"/><circle cx="1163" cy="776.9" r="9.7"/><text class="t" x="1166" y="764.4">238</text></g>
<g id="n-9-18"><rect class="c" x="1351.18" y="722.64" width="72.76" height="72.76"/><circle cx="1390.7" cy="762.8" r="9.7"/><text class="t" x="1393.7" y="750.3">223</text></g>
<g id="n-9-24"><rect class="c" x="1787.74" y="722.64" width="72.76" height="72.76"/><circle cx="1798.8" cy="766.6" r="9.7"/><text class="t" x="1801.8" y="754.1">241</text></g>
<g id="n-8-0"><rect class="c" x="41.5" y="649.88" width="72.76" height="72.76"/><circle cx="102.7" cy="687" r="9.7"/><text class="t" x="105.7" y="674.5">2</text></g>
<g id="n-8-1"><rect class="c" x="114.26" y="649.88" width="72.76" height="72.76"/><circle cx="140.6" cy="660.8" r="9.7"/><text class="t" x="143.6" y="648.3">245</text></g>
<g id="n-8-3"><rect class="c" x="259.78" y="649.88" width="72.76" height="72.76"/><circle cx="279" cy="677" r="9.7"/><text class="t" x="282" y="664.5">29</text></g>
<g id="n-8-4"><rect class="c" x="332.54" y="649.88" width="72.76" height="72.76"/><circle cx="388.8" cy="658.8" r="9.7"/><text class="t" x="391.8" y="646.3">110</text></g>
<g id="n-8-5"><rect class="c" x="405.3" y="649.88" width="72.76" height="72.76"/><circle cx="434.8" cy="704.9" r="9.7"/><text class="t" x="437.8" y="692.4">191</text></g>
<g id="n-8-6"><rect class="c" x="478.06" y="649.88" width="72.76" height="72.76"/><circle cx="503.1" cy="698.7" r="9.7"/><text class="t" x="506.1" y="686.2">56</text></g>
<g id="n-8-9"><rect class="c" x="696.34" y="649.88" width="72.76" height="72.76"/><circle cx="738.9" cy="654.3" r="9.7"/></g>
<g id="n-8-10"><rect class="c" x="769.1" y="649.88" width="72.76" height="72.76"/><circle cx="776.9" cy="707" r="9.7"/><text class="t" x="779.9" y="694.5">248</text></g>
<g id="n-8-12"><rect class="c" x="914.62" y="649.88" width="72.76" height="72.76"/><circle cx="963" cy="675" r="9.7"/><text class="t" x="966" y="662.5">14</text></g>
<g id="n-8-13"><rect class="c" x="987.38" y="649.88" width="72.76" height="72.76"/><circle cx="1032.7" cy="720.8" r="9.7"/><text class="t" x="1035.7" y="708.3">95</text></g>
<g id="n-8-14"><rect class="c" x="1060.14" y="649.88" width="72.76" height="72.76"/><circle cx="1071.1" cy="692.9" r="9.7"/><text class="t" x="1074.1" y="680.4">176</text></g>
<g id="n-8-15"><rect class="c" x="1132.9" y="649.88" width="72.76" height="72.76"/><circle cx="1147" cy="662.9" r="9.7"/><text class="t" x="1150" y="650.4">67</text></g>
<g id="n-8-16"><rect class="c" x="1205.66" y="649.88" width="72.76" height="72.76"/><circle cx="1256.8" cy="709" r="9.7"/><text class="t" x="1259.8" y="696.5">266</text></g>
<g id="n-8-18"><rect class="c" x="1351.18" y="649.88" width="72.76" height="72.76"/><circle cx="1351" cy="723.2" r="9.7"/><text class="t" x="1354" y="710.7">8</text></g>
<g id="n-8-19"><rect class="c" x="1423.94" y="649.88" width="72.76" height="72.76"/><circle cx="1494.7" cy="697" r="9.7"/><text class="t" x="1497.7" y="684.5">251</text></g>
<g id="n-8-21"><rect class="c" x="1569.46" y="649.88" width="72.76" height="72.76"/><circle cx="1607" cy="712.8" r="9.7"/><text class="t" x="1610" y="700.3">35</text></g>
<g id="n-8-22"><rect class="c" x="1642.22" y="649.88" width="72.76" height="72.76"/><circle cx="1645.2" cy="685.3" r="9.7"/><text class="t" x="1648.2" y="672.8">116</text></g>
<g id="n-8-23"><rect class="c" x="1714.98" y="649.88" width="72.76" height="72.76"/><circle cx="1778.2" cy="666.7" r="9.7"/><text class="t" x="1781.2" y="654.2">1</text></g>
<g id="n-8-24"><rect class="c" x="1787.74" y="649.88" width="72.76" height="72.76"/><circle cx="1855" cy="700.8" r="9.7"/><text class="t" x="1858" y="688.3">62</text></g>
<g id="n-7-0"><rect class="c" x="41.5" y="577.12" width="72.76" height="72.76"/><circle cx="50.9" cy="634.7" r="9.7"/><text class="t" x="53.9" y="622.2">83</text></g>
<g id="n-7-3"><rect class="c" x="259.78" y="577.12" width="72.76" height="72.76"/><circle cx="304.9" cy="647.1" r="9.7"/><text class="t" x="307.9" y="634.6">272</text></g>
<g id="n-7-6"><rect class="c" x="478.06" y="577.12" width="72.76" height="72.76"/><circle cx="529" cy="637.1" r="9.7"/><text class="t" x="532" y="624.6">137</text></g>
<g id="n-7-9"><rect class="c" x="696.34" y="577.12" width="72.76" height="72.76"/><circle cx="767.1" cy="622.6" r="9.7"/><text class="t" x="770.1" y="610.1">86</text></g>
<g id="n-7-12"><rect class="c" x="914.62" y="577.12" width="72.76" height="72.76"/><circle cx="917.1" cy="613" r="9.7"/><text class="t" x="920.1" y="600.5">257</text></g>
<g id="n-7-15"><rect class="c" x="1132.9" y="577.12" width="72.76" height="72.76"/><circle cx="1165.3" cy="608.8" r="9.7"/><text class="t" x="1168.3" y="596.3">104</text></g>
<g id="n-7-18"><rect class="c" x="1351.18" y="577.12" width="72.76" height="72.76"/><circle cx="1378.4" cy="588.9" r="9.7"/></g>
<g id="n-7-21"><rect class="c" x="1569.46" y="577.12" width="72.76" height="72.76"/><circle cx="1626.8" cy="584.7" r="9.7"/><text class="t" x="1629.8" y="572.2">278</text></g>
<g id="n-7-24"><rect class="c" x="1787.74" y="577.12" width="72.76" height="72.76"/><circle cx="1808.9" cy="598.9" r="9.7"/><text class="t" x="1811.9" y="586.4">143</text></g>
<g id="n-6-0"><rect class="c" x="41.5" y="504.36" width="72.76" height="72.76"/><circle cx="76.8" cy="523.1" r="9.7"/><text class="t" x="79.8" y="510.6">164</text></g>
<g id="n-6-6"><rect class="c" x="478.06" y="504.36" width="72.76" height="72.76"/><circle cx="482.6" cy="511.4" r="9.7"/></g>
<g id="n-6-9"><rect class="c" x="696.34" y="504.36" width="72.76" height="72.76"/><circle cx="712.6" cy="568.6" r="9.7"/><text class="t" x="715.6" y="556.1">167</text></g>
<g id="n-6-15"><rect class="c" x="1132.9" y="504.36" width="72.76" height="72.76"/><circle cx="1193.4" cy="572.7" r="9.7"/><text class="t" x="1196.4" y="560.2">185</text></g>
<g id="n-6-18"><rect class="c" x="1351.18" y="504.36" width="72.76" height="72.76"/><circle cx="1404.3" cy="533.1" r="9.7"/><text class="t" x="1407.3" y="520.6">170</text></g>
<g id="n-6-24"><rect class="c" x="1787.74" y="504.36" width="72.76" height="72.76"/><circle cx="1828.6" cy="544.8" r="9.7"/><text class="t" x="1831.6" y="532.3">224</text></g>
<g id="n-5-0"><rect class="c" x="41.5" y="431.6" width="72.76" height="72.76"/><circle cx="90.6" cy="457" r="9.7"/><text class="t" x="93.6" y="444.5">1</text></g>
<g id="n-5-1"><rect class="c" x="114.26" y="431.6" width="72.76" height="72.76"/><circle cx="160.7" cy="502.8" r="9.7"/><text class="t" x="163.7" y="490.3">92</text></g>
<g id="n-5-2"><rect class="c" x="187.02" y="431.6" width="72.76" height="72.76"/><circle cx="198.7" cy="474.5" r="9.7"/><text class="t" x="201.7" y="462">173</text></g>
<g id="n-5-3"><rect class="c" x="259.78" y="431.6" width="72.76" height="72.76"/><circle cx="272.8" cy="444.9" r="9.7"/><text class="t" x="275.8" y="432.4">38</text></g>
<g id="n-5-4"><rect class="c" x="332.54" y="431.6" width="72.76" height="72.76"/><circle cx="384.8" cy="490.7" r="9.7"/><text class="t" x="387.8" y="478.2">281</text></g>
<g id="n-5-6"><rect class="c" x="478.06" y="431.6" width="72.76" height="72.76"/><circle cx="520.5" cy="434.6" r="9.7"/><text class="t" x="523.5" y="422.1">65</text></g>
<g id="n-5-7"><rect class="c" x="550.82" y="431.6" width="72.76" height="72.76"/><circle cx="558.9" cy="489" r="9.7"/><text class="t" x="561.9" y="476.5">146</text></g>
<g id="n-5-8"><rect class="c" x="623.58" y="431.6" width="72.76" height="72.76"/><circle cx="677.2" cy="460.7" r="9.7"/><text class="t" x="680.2" y="448.2">2</text></g>
<g id="n-5-9"><rect class="c" x="696.34" y="431.6" width="72.76" height="72.76"/><circle cx="734.5" cy="493.1" r="9.7"/><text class="t" x="737.5" y="480.6">32</text></g>
<g id="n-5-10"><rect class="c" x="769.1" y="431.6" width="72.76" height="72.76"/><circle cx="772.9" cy="467.3" r="9.7"/><text class="t" x="775.9" y="454.8">113</text></g>
<g id="n-5-11"><rect class="c" x="841.86" y="431.6" width="72.76" height="72.76"/><circle cx="906.3" cy="448.3" r="9.7"/><text class="t" x="909.3" y="435.8">1</text></g>
<g id="n-5-12"><rect class="c" x="914.62" y="431.6" width="72.76" height="72.76"/><circle cx="982.2" cy="482.8" r="9.7"/><text class="t" x="985.2" y="470.3">4</text></g>
<g id="n-5-13"><rect class="c" x="987.38" y="431.6" width="72.76" height="72.76"/><circle cx="1019.3" cy="464.9" r="9.7"/><text class="t" x="1022.3" y="452.4">284</text></g>
<g id="n-5-15"><rect class="c" x="1132.9" y="431.6" width="72.76" height="72.76"/><circle cx="1132.7" cy="504.8" r="9.7"/><text class="t" x="1135.7" y="492.3">50</text></g>
<g id="n-5-16"><rect class="c" x="1205.66" y="431.6" width="72.76" height="72.76"/><circle cx="1271.5" cy="476.9" r="9.7"/></g>
<g id="n-5-17"><rect class="c" x="1278.42" y="431.6" width="72.76" height="72.76"/><circle cx="1313" cy="451.1" r="9.7"/><text class="t" x="1316" y="438.6">212</text></g>
<g id="n-5-18"><rect class="c" x="1351.18" y="431.6" width="72.76" height="72.76"/><circle cx="1370.6" cy="459" r="9.7"/><text class="t" x="1373.6" y="446.5">17</text></g>
<g id="n-5-19"><rect class="c" x="1423.94" y="431.6" width="72.76" height="72.76"/><circle cx="1481.1" cy="440.8" r="9.7"/><text class="t" x="1484.1" y="428.3">98</text></g>
<g id="n-5-20"><rect class="c" x="1496.7" y="431.6" width="72.76" height="72.76"/><circle cx="1526.7" cy="484.8" r="9.7"/><text class="t" x="1529.7" y="472.3">179</text></g>
<g id="n-5-21"><rect class="c" x="1569.46" y="431.6" width="72.76" height="72.76"/><circle cx="1593" cy="480.7" r="9.7"/><text class="t" x="1596" y="468.2">44</text></g>
<g id="n-5-24"><rect class="c" x="1787.74" y="431.6" width="72.76" height="72.76"/><circle cx="1848.8" cy="469" r="9.7"/><text class="t" x="1851.8" y="456.5">7</text></g>
<g id="n-5-25"><rect class="c" x="1860.5" y="431.6" width="72.76" height="72.76"/><circle cx="1887" cy="442.5" r="9.7"/><text class="t" x="1890" y="430">152</text></g>
<g id="n-5-26"><rect class="c" x="1933.26" y="431.6" width="72.76" height="72.76"/><circle cx="1948.9" cy="496.9" r="9.7"/><text class="t" x="1951.9" y="484.4">233</text></g>
<g id="n-4-0"><rect class="c" x="41.5" y="358.84" width="72.76" height="72.76"/><circle cx="44.6" cy="394.6" r="9.7"/><text class="t" x="47.6" y="382.1">254</text></g>
<g id="n-4-3"><rect class="c" x="259.78" y="358.84" width="72.76" height="72.76"/><circle cx="292.9" cy="390.8" r="9.7"/><text class="t" x="295.9" y="378.3">119</text></g>
<g id="n-4-9"><rect class="c" x="696.34" y="358.84" width="72.76" height="72.76"/><circle cx="752.8" cy="366.7" r="9.7"/><text class="t" x="755.8" y="354.2">275</text></g>
<g id="n-4-12"><rect class="c" x="914.62" y="358.84" width="72.76" height="72.76"/><circle cx="936.7" cy="380.9" r="9.7"/><text class="t" x="939.7" y="368.4">122</text></g>
<g id="n-4-18"><rect class="c" x="1351.18" y="358.84" width="72.76" height="72.76"/><circle cx="1396.9" cy="428.7" r="9.7"/><text class="t" x="1399.9" y="416.2">260</text></g>
<g id="n-4-21"><rect class="c" x="1569.46" y="358.84" width="72.76" height="72.76"/><circle cx="1621.1" cy="418.7" r="9.7"/><text class="t" x="1624.1" y="406.2">125</text></g>
<g id="n-3-3"><rect class="c" x="259.78" y="286.08" width="72.76" height="72.76"/><circle cx="318.3" cy="352.6" r="9.7"/><text class="t" x="321.3" y="340.1">200</text></g>
<g id="n-3-12"><rect class="c" x="914.62" y="286.08" width="72.76" height="72.76"/><circle cx="955" cy="326.4" r="9.7"/><text class="t" x="958" y="313.9">203</text></g>
<g id="n-3-21"><rect class="c" x="1569.46" y="286.08" width="72.76" height="72.76"/><circle cx="1574.6" cy="291" r="9.7"/></g>
<g id="n-2-0"><rect class="c" x="41.5" y="213.32" width="72.76" height="72.76"/><circle cx="108" cy="265.2" r="9.7"/><text class="t" x="111" y="252.7">7</text></g>
<g id="n-2-1"><rect class="c" x="114.26" y="213.32" width="72.76" height="72.76"/><circle cx="146.9" cy="246.9" r="9.7"/><text class="t" x="149.9" y="234.4">263</text></g>
<g id="n-2-3"><rect class="c" x="259.78" y="213.32" width="72.76" height="72.76"/><circle cx="260.7" cy="286.5" r="9.7"/><text class="t" x="263.7" y="274">47</text></g>
<g id="n-2-4"><rect class="c" x="332.54" y="213.32" width="72.76" height="72.76"/><circle cx="401.8" cy="258.3" r="9.7"/></g>
<g id="n-2-5"><rect class="c" x="405.3" y="213.32" width="72.76" height="72.76"/><circle cx="441.1" cy="232.8" r="9.7"/><text class="t" x="444.1" y="220.3">209</text></g>
<g id="n-2-6"><rect class="c" x="478.06" y="213.32" width="72.76" height="72.76"/><circle cx="517" cy="274.8" r="9.7"/><text class="t" x="520" y="262.3">74</text></g>
<g id="n-2-9"><rect class="c" x="696.34" y="213.32" width="72.76" height="72.76"/><circle cx="720.6" cy="262.7" r="9.7"/><text class="t" x="723.6" y="250.2">59</text></g>
<g id="n-2-12"><rect class="c" x="914.62" y="213.32" width="72.76" height="72.76"/><circle cx="976.9" cy="250.7" r="9.7"/><text class="t" x="979.9" y="238.2">6</text></g>
<g id="n-2-13"><rect class="c" x="987.38" y="213.32" width="72.76" height="72.76"/><circle cx="1014.8" cy="225.2" r="9.7"/><text class="t" x="1017.8" y="212.7">149</text></g>
<g id="n-2-14"><rect class="c" x="1060.14" y="213.32" width="72.76" height="72.76"/><circle cx="1076.9" cy="278.2" r="9.7"/><text class="t" x="1079.9" y="265.7">230</text></g>
<g id="n-2-15"><rect class="c" x="1132.9" y="213.32" width="72.76" height="72.76"/><circle cx="1151" cy="241" r="9.7"/><text class="t" x="1154" y="228.5">77</text></g>
<g id="n-2-18"><rect class="c" x="1351.18" y="213.32" width="72.76" height="72.76"/><circle cx="1365.3" cy="227.3" r="9.7"/></g>
<g id="n-2-19"><rect class="c" x="1423.94" y="213.32" width="72.76" height="72.76"/><circle cx="1475" cy="273.1" r="9.7"/><text class="t" x="1478" y="260.6">269</text></g>
<g id="n-2-21"><rect class="c" x="1569.46" y="213.32" width="72.76" height="72.76"/><circle cx="1612.7" cy="216.9" r="9.7"/><text class="t" x="1615.7" y="204.4">53</text></g>
<g id="n-2-22"><rect class="c" x="1642.22" y="213.32" width="72.76" height="72.76"/><circle cx="1650.9" cy="271" r="9.7"/><text class="t" x="1653.9" y="258.5">134</text></g>
<g id="n-2-23"><rect class="c" x="1714.98" y="213.32" width="72.76" height="72.76"/><circle cx="1769" cy="242.8" r="9.7"/><text class="t" x="1772" y="230.3">2</text></g>
<g id="n-2-24"><rect class="c" x="1787.74" y="213.32" width="72.76" height="72.76"/><circle cx="1837" cy="238.6" r="9.7"/><text class="t" x="1840" y="226.1">80</text></g>
<g id="n-1-0"><rect class="c" x="41.5" y="140.56" width="72.76" height="72.76"/><circle cx="62.9" cy="162.5" r="9.7"/><text class="t" x="65.9" y="150">101</text></g>
<g id="n-1-6"><rect class="c" x="478.06" y="140.56" width="72.76" height="72.76"/><circle cx="534.8" cy="148.8" r="9.7"/><text class="t" x="537.8" y="136.3">155</text></g>
<g id="n-1-9"><rect class="c" x="696.34" y="140.56" width="72.76" height="72.76"/><circle cx="747" cy="200.8" r="9.7"/><text class="t" x="750" y="188.3">140</text></g>
<g id="n-1-15"><rect class="c" x="1132.9" y="140.56" width="72.76" height="72.76"/><circle cx="1178.7" cy="210.7" r="9.7"/><text class="t" x="1181.7" y="198.2">158</text></g>
<g id="n-1-18"><rect class="c" x="1351.18" y="140.56" width="72.76" height="72.76"/><circle cx="1382.8" cy="172.2" r="9.7"/><text class="t" x="1385.8" y="159.7">107</text></g>
<g id="n-1-24"><rect class="c" x="1787.74" y="140.56" width="72.76" height="72.76"/><circle cx="1790.9" cy="177" r="9.7"/><text class="t" x="1793.9" y="164.5">161</text></g>
<g id="n-0-0"><rect class="c" x="41.5" y="67.8" width="72.76" height="72.76"/><circle cx="83" cy="108.8" r="9.7"/><text class="t" x="86" y="96.3">182</text></g>
<g id="n-0-6"><rect class="c" x="478.06" y="67.8" width="72.76" height="72.76"/><circle cx="488.8" cy="110.9" r="9.7"/><text class="t" x="491.8" y="98.4">236</text></g>
<g id="n-0-9"><rect class="c" x="696.34" y="67.8" width="72.76" height="72.76"/><circle cx="702.8" cy="73" r="9.7"/><text class="t" x="705.8" y="60.5">221</text></g>
<g id="n-0-15"><rect class="c" x="1132.9" y="67.8" width="72.76" height="72.76"/><circle cx="1197" cy="84.7" r="9.7"/><text class="t" x="1200" y="72.2">239</text></g>
<g id="n-0-18"><rect class="c" x="1351.18" y="67.8" width="72.76" height="72.76"/><circle cx="1410.9" cy="134.3" r="9.7"/><text class="t" x="1413.9" y="121.8">188</text></g>
<g id="n-0-24"><rect class="c" x="1787.74" y="67.8" width="72.76" height="72.76"/><circle cx="1816.8" cy="122.9" r="9.7"/><text class="t" x="1819.8" y="110.4">242</text></g>
</g>
</svg>
